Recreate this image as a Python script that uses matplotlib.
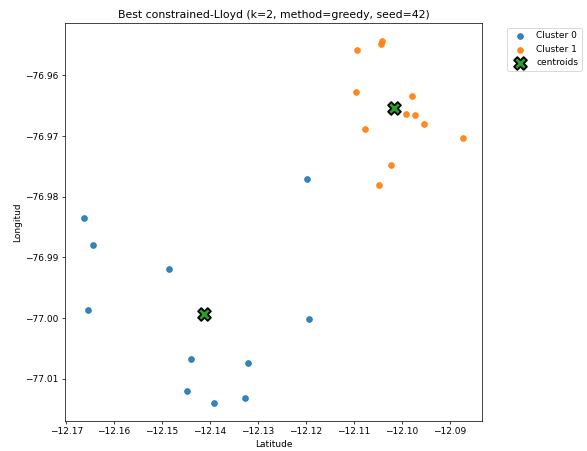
import matplotlib
matplotlib.use("Agg")
import matplotlib.pyplot as plt

# puntos del cluster 0 (lat, lon)
lat0 = [-12.1663, -12.1644, -12.1655, -12.1486, -12.1198, -12.1193,
        -12.1440, -12.1321, -12.1447, -12.1391, -12.1326]
lon0 = [-76.9835, -76.9880, -76.9987, -76.9919, -76.9771, -77.0002,
        -77.0068, -77.0074, -77.0121, -77.0140, -77.0132]

# puntos del cluster 1
lat1 = [-12.1093, -12.1041, -12.1044, -12.1095, -12.0978, -12.0990,
        -12.0972, -12.0953, -12.0872, -12.1077, -12.1022, -12.1048]
lon1 = [-76.9559, -76.9544, -76.9549, -76.9627, -76.9634, -76.9664,
        -76.9666, -76.9680, -76.9703, -76.9688, -76.9748, -76.9781]

# centroides
cent_lat = [-12.1413, -12.1015]
cent_lon = [-76.9994, -76.9654]

dpi = 65
fig = plt.figure(figsize=(587 / dpi, 451 / dpi), dpi=dpi)
ax = fig.add_axes([0.1107, 0.0665, 0.7104, 0.8818])

ax.scatter(lat0, lon0, s=40, color='tab:blue', alpha=0.9, label='Cluster 0')
ax.scatter(lat1, lon1, s=40, color='tab:orange', alpha=0.9, label='Cluster 1')
ax.scatter(cent_lat, cent_lon, s=200, marker='X', color='tab:green',
           edgecolor='black', linewidths=2, label='centroids')

ax.set_title('Best constrained-Lloyd (k=2, method=greedy, seed=42)')
ax.set_xlabel('Latitude')
ax.set_ylabel('Longitud')
ax.legend(bbox_to_anchor=(1.05, 1), loc='upper left')

fig.savefig('out.png', dpi=dpi)
